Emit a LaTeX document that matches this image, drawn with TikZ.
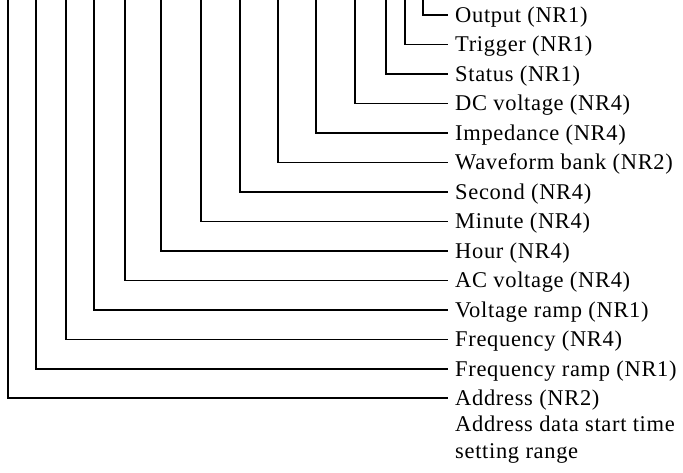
\documentclass[tikz,border=0pt]{standalone}
\usepackage{fontspec}
\setmainfont{Liberation Serif}
\newfontfamily\lblfont{Liberation Serif}[LetterSpace=3]
\usepackage{tikz}
\usetikzlibrary{positioning}

\begin{document}
\begin{tikzpicture}[
  x=1pt, y=-1pt,
  font=\lblfont\fontsize{22.5}{26.5}\selectfont,
  lbl/.style={anchor=west, inner xsep=7pt, inner ysep=0pt, text height=14.9pt, text depth=0pt},
  note/.style={anchor=north west, align=left, inner xsep=7pt, inner ysep=0pt},
  wire/.style={line width=1.1pt}
]
\useasboundingbox (0,0) rectangle (683,473);
% labels on the right
\node[lbl] (out) at (448,15) {Output (NR1)};
\node[lbl] (trig) at (448,44.5) {Trigger (NR1)};
\node[lbl] (stat) at (448,74) {Status (NR1)};
\node[lbl] (dcv) at (448,103.5) {DC voltage (NR4)};
\node[lbl] (imp) at (448,133) {Impedance (NR4)};
\node[lbl] (wave) at (448,162.5) {Waveform bank (NR2)};
\node[lbl] (sec) at (448,192) {Second (NR4)};
\node[lbl] (min) at (448,221.5) {Minute (NR4)};
\node[lbl] (hour) at (448,251) {Hour (NR4)};
\node[lbl] (acv) at (448,280.5) {AC voltage (NR4)};
\node[lbl] (vramp) at (448,310) {Voltage ramp (NR1)};
\node[lbl] (freq) at (448,339.5) {Frequency (NR4)};
\node[lbl] (framp) at (448,369) {Frequency ramp (NR1)};
\node[lbl] (addr) at (448,398) {Address (NR2)};
\node[note] (range) at (448,416) {Address data start time\\setting range};
% free ends at the top edge
\coordinate (t-addr) at (8,0);
\coordinate (t-framp) at (36,0);
\coordinate (t-freq) at (66,0);
\coordinate (t-vramp) at (94,0);
\coordinate (t-acv) at (125,0);
\coordinate (t-hour) at (161,0);
\coordinate (t-min) at (201,0);
\coordinate (t-sec) at (240,0);
\coordinate (t-wave) at (278,0);
\coordinate (t-imp) at (316,0);
\coordinate (t-dcv) at (355,0);
\coordinate (t-stat) at (386,0);
\coordinate (t-trig) at (405,0);
\coordinate (t-out) at (423,0);
\draw[wire] (t-out) |- (out.west);
\draw[wire] (t-trig) |- (trig.west);
\draw[wire] (t-stat) |- (stat.west);
\draw[wire] (t-dcv) |- (dcv.west);
\draw[wire] (t-imp) |- (imp.west);
\draw[wire] (t-wave) |- (wave.west);
\draw[wire] (t-sec) |- (sec.west);
\draw[wire] (t-min) |- (min.west);
\draw[wire] (t-hour) |- (hour.west);
\draw[wire] (t-acv) |- (acv.west);
\draw[wire] (t-vramp) |- (vramp.west);
\draw[wire] (t-freq) |- (freq.west);
\draw[wire] (t-framp) |- (framp.west);
\draw[wire] (t-addr) |- (addr.west);
\end{tikzpicture}
\end{document}
